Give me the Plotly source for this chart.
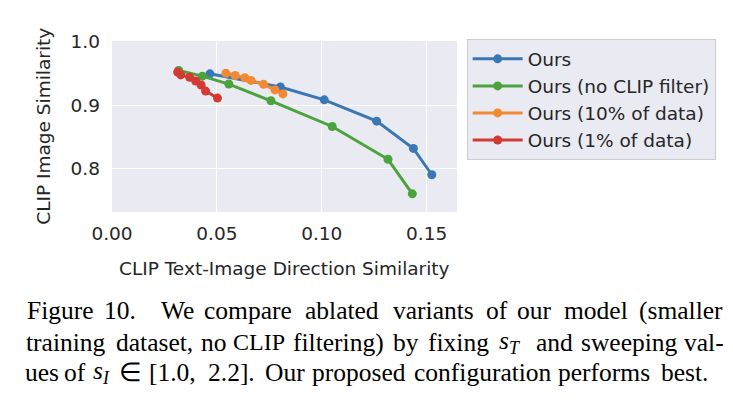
import plotly.graph_objects as go

W, H = 733, 412
L, R, T, B = 111.7, 457.3, 40.7, 211.7

series_names = ["Ours", "Ours (no CLIP filter)", "Ours (10% of data)", "Ours (1% of data)"]
colors = ["#3a78b5", "#4aa33c", "#f28a34", "#d33a32"]

ours_x = [0.0467, 0.0803, 0.1012, 0.1262, 0.1437, 0.1525]
ours_y = [0.9495, 0.9286, 0.9083, 0.8745, 0.8313, 0.7896]

noclip_x = [0.0318, 0.0431, 0.0557, 0.0758, 0.1050, 0.1316, 0.1432]
noclip_y = [0.9547, 0.9458, 0.9333, 0.9068, 0.8661, 0.8141, 0.7594]

d10_x = [0.0543, 0.0587, 0.0633, 0.0663, 0.0723, 0.0777, 0.0815]
d10_y = [0.9505, 0.9469, 0.9432, 0.9391, 0.9328, 0.9240, 0.9177]

d1_x = [0.0313, 0.0328, 0.0370, 0.0399, 0.0425, 0.0446, 0.0503]
d1_y = [0.9522, 0.9478, 0.9440, 0.9382, 0.9318, 0.9222, 0.9111]

x_ticks = [0.00, 0.05, 0.10, 0.15]
x_tick_labels = ["0.00", "0.05", "0.10", "0.15"]
y_ticks = [0.8, 0.9, 1.0]
y_tick_labels = ["0.8", "0.9", "1.0"]

x_title = "CLIP Text-Image Direction Similarity"
y_title = "CLIP Image Similarity"

# caption words per line
caption_words = [
    ["Figure", "10.", "We", "compare", "ablated", "variants", "of", "our", "model", "(smaller"],
    ["training", "dataset,", "no", "CLIP", "filtering)", "by", "fixing",
     "<i>s</i><sub><i>T</i></sub>", "and", "sweeping", "val-"],
    ["ues", "of", "<i>s</i><sub><i>I</i></sub>", "∈", "[1.0,", "2.2].", "Our", "proposed",
     "configuration", "performs", "best."],
]
# layout: centre pixel of each word (justified text as in the reference)
caption_word_center = [
    [60, 120, 177, 247.5, 342, 433.5, 497, 535, 596.5, 681.5],
    [66, 154.5, 213.5, 259, 338.5, 406.5, 458.5, 510, 554.5, 630, 704.5],
    [41.5, 75, 101, 130.5, 172.5, 231.5, 285.5, 359, 483.5, 604.5, 685.5],
]
caption_line_y = [310, 342, 372]

xs = [ours_x, noclip_x, d10_x, d1_x]
ys = [ours_y, noclip_y, d10_y, d1_y]

fig = go.Figure()
for name, c, x, y in zip(series_names, colors, xs, ys):
    fig.add_trace(go.Scatter(x=x, y=y, name=name, mode="lines+markers",
                             line=dict(color=c, width=3),
                             marker=dict(color=c, size=9)))

pw, ph = R - L, B - T
def px(x):
    return (x - L) / pw
def py(y):
    return (B - y) / ph

CHART_FONT = "DejaVu Sans"
TXT = "#262626"
FS = 18.5

annotations = [
    dict(text=x_title, x=px(284.5), y=py(268), xref="paper", yref="paper",
         showarrow=False, font=dict(family=CHART_FONT, size=FS, color=TXT),
         xanchor="center", yanchor="middle"),
    dict(text=y_title, x=px(43), y=py(126), xref="paper", yref="paper",
         showarrow=False, textangle=-90, font=dict(family=CHART_FONT, size=FS, color=TXT),
         xanchor="center", yanchor="middle"),
]
for words, centers, yy in zip(caption_words, caption_word_center, caption_line_y):
    for w, xc in zip(words, centers):
        size = 24 if w == "CLIP" else 25.5
        annotations.append(dict(text=w, x=px(xc), y=py(yy), xref="paper", yref="paper",
                                showarrow=False, xanchor="center", yanchor="middle",
                                borderpad=0,
                                font=dict(family="Liberation Serif", size=size, color="black")))

fig.update_layout(
    width=W, height=H,
    margin=dict(l=L, r=W - R, t=T, b=H - B, pad=0),
    paper_bgcolor="white", plot_bgcolor="#EAEAF2",
    font=dict(family=CHART_FONT, size=FS, color=TXT),
    xaxis=dict(range=[0, 0.1645], tickvals=x_ticks, ticktext=x_tick_labels,
               showgrid=True, gridcolor="white", gridwidth=1.3, zeroline=False,
               showline=False, ticks="", ticklabelstandoff=8,
               tickfont=dict(family=CHART_FONT, size=FS, color=TXT)),
    yaxis=dict(range=[0.7306, 1.0015], tickvals=y_ticks, ticktext=y_tick_labels,
               showgrid=True, gridcolor="white", gridwidth=1.3, zeroline=False,
               showline=False, ticks="", ticklabelstandoff=11,
               tickfont=dict(family=CHART_FONT, size=FS, color=TXT)),
    legend=dict(x=px(467), y=py(39), xanchor="left", yanchor="top",
                bgcolor="#EAEAF2", bordercolor="#cccccc", borderwidth=1,
                font=dict(family=CHART_FONT, size=FS, color=TXT),
                itemwidth=50, tracegroupgap=0),
    showlegend=True,
    annotations=annotations,
)

fig.write_html("out.html", config={"displayModeBar": False},
               post_script="document.body.style.margin='0';")
